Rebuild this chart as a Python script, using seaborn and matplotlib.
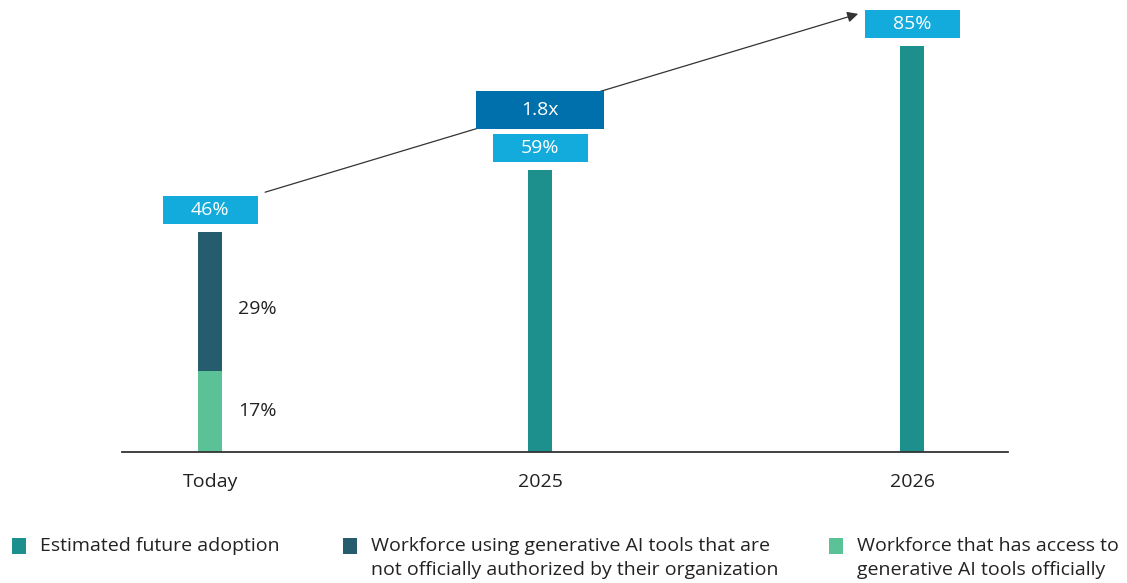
import numpy as np
import pandas as pd
import matplotlib
matplotlib.use("Agg")
import matplotlib.pyplot as plt
import seaborn as sns
from matplotlib.patches import Rectangle
from matplotlib.transforms import ScaledTranslation, offset_copy

# ---- data ----
periods = ["Today", "2025", "2026"]
estimated = [0, 59, 85]
unauthorized = [29, 0, 0]
official = [17, 0, 0]
total_labels = ["46%", "59%", "85%"]
growth_label = "1.8x"
series_names = [
    "Estimated future adoption",
    "Workforce using generative AI tools that are\nnot officially authorized by their organization",
    "Workforce that has access to\ngenerative AI tools officially",
]
colors = ["#1D8F8D", "#265D6E", "#5BC196"]

# layout: horizontal slot of each period on the axis
x_slots = [0.0, 0.94, 2.0]

# ---- build stacked table ----
rows = []
for i, p in enumerate(periods):
    if estimated[i]:
        rows.append(dict(pos=x_slots[i], series=series_names[0], value=estimated[i], bottom=0))
    if unauthorized[i]:
        rows.append(dict(pos=x_slots[i], series=series_names[1], value=unauthorized[i], bottom=official[i]))
    if official[i]:
        rows.append(dict(pos=x_slots[i], series=series_names[2], value=official[i], bottom=0))
df = pd.DataFrame(rows)
df["top"] = df["value"] + df["bottom"]
totals = [estimated[i] + unauthorized[i] + official[i] for i in range(len(periods))]

sns.set_theme(style="white")
plt.rcParams["font.family"] = ["Open Sans", "DejaVu Sans"]

W, H = 1127, 583
FS = 14
fig = plt.figure(figsize=(W / 100, H / 100), dpi=100)
ax = fig.add_axes([122 / W, 131 / H, 886 / W, 452 / H])

min_gap = min(np.diff(x_slots))
sns.barplot(data=df, x="pos", y="top", hue="series", hue_order=series_names,
            palette=colors, dodge=False, width=0.069 / min_gap, native_scale=True,
            saturation=1, linewidth=0, ax=ax, legend=False)

ax.set_xticks(x_slots, periods)
ax.set_xlim(-0.251, 2.273)
ax.set_ylim(0, 94.6)
for s in ["left", "top", "right"]:
    ax.spines[s].set_visible(False)
ax.spines["bottom"].set_color("#333333")
ax.spines["bottom"].set_linewidth(1.3)
ax.set_yticks([])
ax.tick_params(axis="x", length=0, labelsize=FS, pad=15, labelcolor="#222222")
ax.set_xlabel("")
ax.set_ylabel("")

# segment labels for Today
lab_trans = offset_copy(ax.transData, fig=fig, x=28, y=0, units="dots")
ax.text(x_slots[0], official[0] + unauthorized[0] / 2 - 1.5, f"{unauthorized[0]}%", transform=lab_trans,
        ha="left", va="center", fontsize=FS, color="#222222")
ax.text(x_slots[0], official[0] / 2, f"{official[0]}%", transform=lab_trans,
        ha="left", va="center", fontsize=FS, color="#222222")

# total boxes
for i, v in enumerate(totals):
    tr = fig.dpi_scale_trans + ScaledTranslation(x_slots[i], v, ax.transData)
    ax.add_patch(Rectangle((-0.475, 0.22 - 0.14), 0.95, 0.28, transform=tr,
                           facecolor="#12ABDB", edgecolor="none", clip_on=False, zorder=4))
    ax.text(0, 0.22, total_labels[i], transform=tr, ha="center", va="center",
            fontsize=FS, color="white", zorder=5, clip_on=False)

# growth arrow
start_tr = offset_copy(ax.transData, fig=fig, x=55, y=40, units="dots")
end_tr = offset_copy(ax.transData, fig=fig, x=-54, y=32, units="dots")
x0, y0 = start_tr.transform((x_slots[0], totals[0]))
x1, y1 = end_tr.transform((x_slots[2], totals[2]))
ax.annotate("", xy=(x1, y1), xycoords="figure pixels", xytext=(x0, y0),
            textcoords="figure pixels",
            arrowprops=dict(arrowstyle="-|>", color="#333333", lw=0.9,
                            mutation_scale=16, shrinkA=0, shrinkB=0), zorder=3)

# growth box on the arrow at 2025
bx = ax.transData.transform((x_slots[1], 0))[0]
t = (bx - x0) / (x1 - x0)
by = y0 + t * (y1 - y0)
gtr = fig.dpi_scale_trans + ScaledTranslation(bx / 100, by / 100, fig.dpi_scale_trans)
ax.add_patch(Rectangle((-0.64, -0.19), 1.28, 0.38, transform=gtr,
                       facecolor="#0070AD", edgecolor="none", clip_on=False, zorder=4))
ax.text(0, 0, growth_label, transform=gtr, ha="center", va="center",
        fontsize=FS, color="white", zorder=5, clip_on=False)

# legend (manual)
leg_x = [12, 343, 829]
for lx, name, c in zip(leg_x, series_names, colors):
    fig.add_artist(Rectangle((lx / W, 1 - 554 / H), 14 / W, 16 / H,
                             transform=fig.transFigure, facecolor=c, edgecolor="none"))
    fig.text((lx + 28) / W, 1 - 537 / H, name, ha="left", va="top", fontsize=FS,
             color="#222222", linespacing=1.42)

fig.savefig("out.png", dpi=100)
